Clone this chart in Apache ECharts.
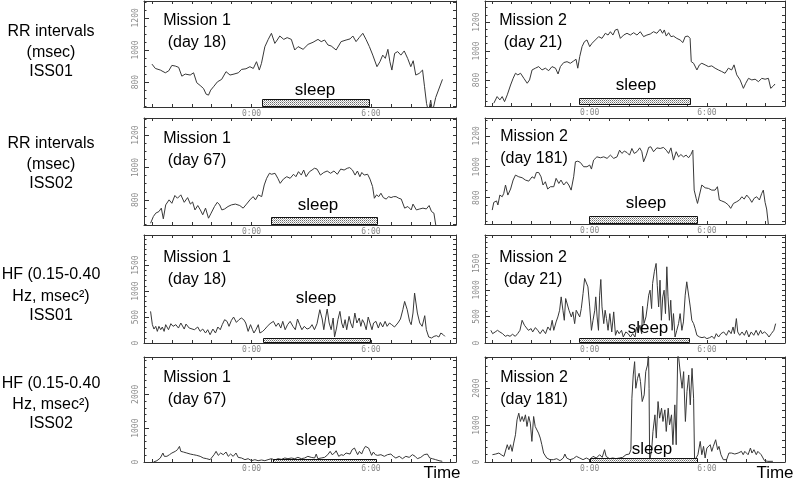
<!DOCTYPE html>
<html><head><meta charset="utf-8">
<script src="https://cdn.jsdelivr.net/npm/echarts@6/dist/echarts.min.js"></script>
<style>html,body{margin:0;padding:0;background:#fff}#c{width:793px;height:481px}</style>
</head><body><div id="c"></div>
<script>
// ---------- data (time in hours relative to 0:00, value) ----------
const xTickLabels = ['0:00', '6:00'];
const xTickLabelHours = [0, 6];

const rrIss01M1 = [[-5.0,912],[-4.83,885],[-4.58,875],[-4.33,858],[-4.16,870],[-4.0,904],[-3.83,900],[-3.66,892],[-3.5,837],[-3.33,850],[-3.08,844],[-2.91,858],[-2.75,796],[-2.58,779],[-2.41,760],[-2.28,725],[-2.16,719],[-2.05,750],[-1.91,771],[-1.71,802],[-1.5,817],[-1.28,865],[-1.08,844],[-0.88,850],[-0.66,858],[-0.5,879],[-0.28,883],[-0.08,896],[0.09,885],[0.25,927],[0.39,875],[0.5,917],[0.67,1020],[0.84,1066],[1.0,1104],[1.17,1041],[1.29,1062],[1.42,1087],[1.62,1066],[1.79,1077],[2.0,1066],[2.17,1000],[2.34,1021],[2.59,1004],[2.84,1035],[3.09,1048],[3.34,1066],[3.5,1052],[3.67,1062],[3.84,1031],[4.0,1025],[4.25,1000],[4.5,1052],[4.75,1062],[4.95,1069],[5.09,1087],[5.25,1052],[5.42,1079],[5.59,1104],[5.75,1066],[5.92,1021],[6.09,968],[6.3,896],[6.45,927],[6.59,968],[6.72,948],[6.85,1004],[6.95,927],[7.05,875],[7.19,979],[7.34,990],[7.5,968],[7.67,994],[7.84,948],[8.0,896],[8.12,933],[8.25,844],[8.42,854],[8.59,875],[8.69,771],[8.79,667],[8.89,615],[9.0,688],[9.09,615],[9.25,704],[9.59,817]];

const rrIss01M2 = [[-4.91,639],[-4.74,685],[-4.6,662],[-4.48,685],[-4.36,650],[-4.22,697],[-4.05,765],[-3.92,811],[-3.8,846],[-3.68,835],[-3.54,846],[-3.37,811],[-3.2,777],[-3.08,800],[-2.95,869],[-2.78,881],[-2.61,892],[-2.44,869],[-2.27,881],[-2.1,864],[-1.93,892],[-1.75,881],[-1.62,841],[-1.5,892],[-1.33,920],[-1.16,926],[-0.99,915],[-0.82,931],[-0.7,943],[-0.61,881],[-0.51,961],[-0.39,1030],[-0.27,1064],[-0.14,1076],[0,1030],[0.12,1053],[0.29,1076],[0.46,1099],[0.63,1087],[0.8,1122],[0.94,1110],[1.06,1133],[1.19,1110],[1.31,1145],[1.43,1150],[1.57,1087],[1.74,1110],[1.91,1122],[2.08,1110],[2.25,1126],[2.42,1110],[2.59,1133],[2.76,1099],[2.93,1110],[3.1,1117],[3.27,1133],[3.44,1122],[3.61,1150],[3.73,1122],[3.82,1145],[3.92,1103],[4.04,1126],[4.16,1099],[4.29,1103],[4.46,1087],[4.63,1076],[4.77,1058],[4.89,1099],[5.03,1103],[5.14,1087],[5.2,926],[5.32,915],[5.49,869],[5.62,904],[5.74,915],[5.91,904],[6.08,892],[6.25,897],[6.42,881],[6.59,869],[6.76,858],[6.93,846],[7.1,881],[7.27,869],[7.39,904],[7.53,835],[7.7,800],[7.87,742],[7.99,777],[8.13,811],[8.3,800],[8.47,805],[8.64,788],[8.81,811],[8.98,805],[9.15,811],[9.27,742],[9.4,758],[9.49,772]];

const rrIss02M1 = [[-5.07,656],[-4.93,697],[-4.81,718],[-4.65,728],[-4.53,749],[-4.43,683],[-4.31,769],[-4.14,800],[-4.0,779],[-3.85,827],[-3.72,810],[-3.55,831],[-3.38,785],[-3.21,814],[-3.07,774],[-2.96,787],[-2.84,738],[-2.7,765],[-2.57,738],[-2.45,708],[-2.31,749],[-2.16,687],[-2.03,718],[-1.86,759],[-1.72,785],[-1.6,769],[-1.49,738],[-1.35,744],[-1.18,759],[-1.01,769],[-0.81,774],[-0.59,765],[-0.42,749],[-0.25,774],[-0.08,800],[0.08,820],[0.2,800],[0.34,831],[0.51,820],[0.64,892],[0.76,933],[0.9,964],[1.01,958],[1.18,964],[1.32,933],[1.44,902],[1.6,928],[1.77,943],[1.94,933],[2.11,958],[2.23,943],[2.36,974],[2.5,953],[2.62,984],[2.74,943],[2.91,974],[3.04,984],[3.16,995],[3.29,990],[3.46,953],[3.63,969],[3.8,978],[3.97,964],[4.14,978],[4.31,958],[4.48,990],[4.65,984],[4.81,995],[4.93,999],[5.07,984],[5.2,953],[5.32,978],[5.44,943],[5.54,969],[5.66,953],[5.83,958],[5.95,928],[6.08,882],[6.17,810],[6.28,831],[6.39,820],[6.5,841],[6.62,814],[6.76,805],[6.89,820],[7.01,814],[7.13,820],[7.26,820],[7.4,810],[7.52,805],[7.69,749],[7.85,759],[8.02,738],[8.11,774],[8.28,738],[8.45,744],[8.61,749],[8.78,744],[8.92,765],[9.04,728],[9.16,718],[9.26,640]];

const rrIss02M2 = [[-4.99,720],[-4.91,770],[-4.77,779],[-4.7,753],[-4.6,817],[-4.48,806],[-4.4,828],[-4.31,882],[-4.19,817],[-4.05,856],[-3.92,914],[-3.8,946],[-3.63,935],[-3.46,929],[-3.29,914],[-3.12,907],[-2.95,935],[-2.83,925],[-2.73,963],[-2.61,963],[-2.49,935],[-2.39,882],[-2.27,903],[-2.15,856],[-2.01,871],[-1.84,871],[-1.72,925],[-1.58,892],[-1.47,914],[-1.33,882],[-1.19,903],[-1.07,882],[-0.95,849],[-0.82,935],[-0.73,1032],[-0.61,1036],[-0.48,1028],[-0.31,1000],[-0.14,1000],[0,1011],[0.09,985],[0.2,1043],[0.37,1064],[0.55,1058],[0.72,1064],[0.89,1054],[1.06,1075],[1.23,1054],[1.4,1064],[1.53,1107],[1.65,1086],[1.77,1101],[1.91,1092],[2.04,1075],[2.16,1118],[2.28,1086],[2.42,1097],[2.56,1122],[2.67,1097],[2.76,1032],[2.9,1075],[3.02,1125],[3.13,1129],[3.27,1097],[3.44,1122],[3.61,1118],[3.78,1125],[3.92,1107],[4.04,1086],[4.16,1122],[4.29,1043],[4.43,1097],[4.55,1064],[4.67,1079],[4.8,1064],[4.94,1075],[5.06,1058],[5.18,1079],[5.28,1107],[5.35,849],[5.45,796],[5.52,763],[5.62,817],[5.74,882],[5.91,864],[6.08,860],[6.25,849],[6.42,849],[6.54,871],[6.64,785],[6.76,779],[6.93,770],[7.1,753],[7.22,731],[7.36,763],[7.53,774],[7.67,785],[7.79,806],[7.91,791],[8.04,817],[8.18,796],[8.3,770],[8.42,796],[8.55,806],[8.69,785],[8.81,828],[8.89,849],[8.98,770],[9.06,727],[9.15,625]];

const hfIss01M1 = [[-5.07,609],[-4.98,353],[-4.9,269],[-4.81,321],[-4.73,224],[-4.65,321],[-4.56,256],[-4.48,308],[-4.39,224],[-4.31,353],[-4.17,256],[-4.05,372],[-3.94,321],[-3.8,353],[-3.67,288],[-3.55,385],[-3.38,269],[-3.29,365],[-3.13,288],[-3.04,321],[-2.87,256],[-2.7,308],[-2.58,224],[-2.45,269],[-2.31,192],[-2.2,256],[-2.08,160],[-1.94,269],[-1.81,192],[-1.69,308],[-1.57,256],[-1.47,353],[-1.35,449],[-1.23,417],[-1.13,321],[-1.01,436],[-0.9,500],[-0.76,397],[-0.63,449],[-0.51,481],[-0.39,449],[-0.29,385],[-0.17,224],[-0.05,353],[0.05,256],[0.12,192],[0.22,256],[0.34,353],[0.42,192],[0.56,224],[0.68,269],[0.79,321],[0.93,372],[1.1,417],[1.23,321],[1.35,385],[1.47,288],[1.57,417],[1.69,256],[1.81,353],[1.94,417],[2.08,321],[2.2,256],[2.31,462],[2.42,353],[2.53,256],[2.65,321],[2.79,269],[2.92,288],[3.04,353],[3.16,256],[3.29,372],[3.43,641],[3.55,462],[3.63,256],[3.72,481],[3.8,654],[3.9,385],[4.0,256],[4.1,481],[4.17,115],[4.27,288],[4.34,449],[4.44,609],[4.53,385],[4.61,288],[4.7,449],[4.78,256],[4.9,513],[4.98,385],[5.08,288],[5.19,577],[5.29,385],[5.41,481],[5.49,321],[5.57,449],[5.66,385],[5.76,256],[5.86,500],[5.96,526],[6.05,256],[6.13,385],[6.25,417],[6.37,288],[6.47,397],[6.59,308],[6.71,417],[6.81,321],[6.93,385],[7.04,353],[7.18,308],[7.35,385],[7.48,462],[7.6,641],[7.69,801],[7.82,641],[7.94,417],[8.02,353],[8.11,577],[8.19,962],[8.33,577],[8.45,385],[8.57,321],[8.7,526],[8.78,256],[8.9,115],[9.04,96],[9.17,128],[9.29,141],[9.41,115],[9.51,192],[9.63,160],[9.71,128]];

const hfIss01M2 = [[-5.06,239],[-4.97,176],[-4.84,208],[-4.72,239],[-4.6,208],[-4.46,176],[-4.32,126],[-4.2,145],[-4.08,126],[-3.95,164],[-3.81,126],[-3.69,176],[-3.57,239],[-3.46,428],[-3.34,334],[-3.26,302],[-3.14,239],[-3.0,271],[-2.92,208],[-2.78,290],[-2.66,239],[-2.54,176],[-2.4,252],[-2.26,176],[-2.14,302],[-2.02,239],[-1.92,428],[-1.84,239],[-1.72,397],[-1.63,491],[-1.54,617],[-1.46,869],[-1.37,617],[-1.3,428],[-1.23,838],[-1.17,869],[-1.06,617],[-0.94,491],[-0.86,586],[-0.77,365],[-0.69,617],[-0.6,649],[-0.51,491],[-0.43,649],[-0.34,932],[-0.26,1216],[-0.17,1247],[-0.09,1058],[0,680],[0.09,239],[0.17,428],[0.26,617],[0.31,869],[0.38,491],[0.45,239],[0.51,901],[0.57,1197],[0.63,680],[0.72,365],[0.79,617],[0.86,460],[0.94,239],[1.03,554],[1.13,208],[1.23,586],[1.32,145],[1.41,239],[1.51,176],[1.63,239],[1.72,113],[1.85,208],[1.97,176],[2.09,113],[2.2,176],[2.32,113],[2.4,302],[2.49,208],[2.57,334],[2.66,176],[2.71,693],[2.78,365],[2.88,491],[2.95,680],[3.02,901],[3.09,995],[3.17,649],[3.22,1121],[3.31,1342],[3.4,1499],[3.46,1089],[3.53,680],[3.6,1184],[3.67,428],[3.74,869],[3.81,995],[3.88,554],[3.95,1436],[4.01,869],[4.08,428],[4.15,806],[4.22,239],[4.29,554],[4.37,113],[4.46,239],[4.55,365],[4.63,554],[4.72,239],[4.8,397],[4.89,901],[4.97,1153],[5.06,1184],[5.15,680],[5.23,428],[5.32,365],[5.4,271],[5.49,145],[5.63,113],[5.75,101],[5.87,113],[6.0,82],[6.14,101],[6.26,126],[6.38,82],[6.48,176],[6.6,113],[6.72,176],[6.86,208],[7.0,145],[7.12,239],[7.24,176],[7.34,302],[7.41,176],[7.51,460],[7.58,208],[7.68,145],[7.8,208],[7.92,145],[8.03,239],[8.15,113],[8.27,208],[8.4,145],[8.52,239],[8.63,145],[8.75,239],[8.83,176],[8.95,208],[9.06,176],[9.18,113],[9.3,176],[9.43,239],[9.52,365]];

const hfIss02M1 = [[-4.92,0],[-4.75,39],[-4.58,118],[-4.45,265],[-4.38,167],[-4.25,167],[-4.12,216],[-4.0,265],[-3.83,314],[-3.72,363],[-3.62,461],[-3.55,314],[-3.42,294],[-3.25,265],[-3.08,235],[-2.92,216],[-2.75,196],[-2.58,167],[-2.42,118],[-2.25,98],[-2.08,69],[-2.0,118],[-1.88,216],[-1.78,314],[-1.67,196],[-1.55,265],[-1.42,216],[-1.28,294],[-1.17,167],[-1.05,235],[-0.92,167],[-0.78,265],[-0.67,137],[-0.5,118],[-0.33,69],[-0.17,98],[0,39],[0.17,69],[0.33,39],[0.5,59],[0.67,39],[0.83,69],[1.0,98],[1.17,59],[1.33,98],[1.5,78],[1.67,118],[1.83,98],[2.0,118],[2.17,98],[2.33,137],[2.5,98],[2.67,118],[2.83,167],[3.0,137],[3.17,118],[3.25,235],[3.33,98],[3.5,118],[3.67,137],[3.83,216],[3.95,314],[4.05,216],[4.17,265],[4.25,333],[4.38,167],[4.5,216],[4.62,196],[4.75,265],[4.83,314],[4.95,235],[5.05,363],[5.17,412],[5.25,314],[5.33,216],[5.42,314],[5.53,235],[5.62,363],[5.72,461],[5.8,510],[5.88,412],[5.95,314],[6.03,196],[6.12,294],[6.22,216],[6.33,196],[6.5,216],[6.67,167],[6.83,216],[7.0,235],[7.12,167],[7.25,118],[7.42,167],[7.58,98],[7.75,167],[7.92,137],[8.08,216],[8.22,167],[8.33,98],[8.5,137],[8.67,216],[8.83,235],[8.95,118],[9.08,98],[9.25,69],[9.42,39],[9.58,20]];

const hfIss02M2 = [[-4.98,198],[-4.81,216],[-4.65,243],[-4.53,198],[-4.39,153],[-4.31,198],[-4.22,468],[-4.14,333],[-4.05,468],[-3.97,288],[-3.89,513],[-3.8,738],[-3.72,1143],[-3.63,1323],[-3.55,1098],[-3.46,1233],[-3.38,1098],[-3.29,1278],[-3.21,963],[-3.12,1233],[-3.04,1053],[-2.96,558],[-2.87,1233],[-2.79,963],[-2.7,918],[-2.62,783],[-2.53,648],[-2.45,468],[-2.36,243],[-2.28,288],[-2.2,108],[-2.03,63],[-1.86,63],[-1.69,90],[-1.52,36],[-1.35,108],[-1.27,216],[-1.18,108],[-1.01,63],[-0.84,90],[-0.68,153],[-0.51,108],[-0.34,63],[-0.17,108],[0,63],[0.17,153],[0.34,108],[0.51,198],[0.64,126],[0.76,333],[0.84,153],[1.01,90],[1.18,108],[1.35,90],[1.52,108],[1.69,126],[1.86,198],[2.03,216],[2.11,333],[2.16,1728],[2.23,2358],[2.3,2718],[2.36,1998],[2.45,2268],[2.53,2403],[2.6,2178],[2.69,1638],[2.79,1818],[2.87,2448],[2.96,2628],[3.01,3000],[3.04,1998],[3.07,18],[3.18,378],[3.24,828],[3.34,1278],[3.41,648],[3.5,1638],[3.58,1188],[3.68,1458],[3.75,1098],[3.85,1413],[3.92,828],[4.02,1458],[4.09,1008],[4.19,1278],[4.26,468],[4.36,1548],[4.43,468],[4.51,3000],[4.56,2808],[4.65,2358],[4.73,1998],[4.81,2448],[4.9,1098],[4.98,1908],[5.07,2358],[5.15,1548],[5.24,2538],[5.32,1728],[5.37,36],[5.44,18],[5.54,198],[5.66,558],[5.74,198],[5.83,423],[5.91,108],[6.0,378],[6.08,333],[6.17,468],[6.25,288],[6.33,423],[6.45,603],[6.55,333],[6.62,423],[6.72,198],[6.84,63],[6.93,18],[7.01,63],[7.13,243],[7.26,243],[7.43,216],[7.6,243],[7.77,288],[7.86,198],[7.94,288],[8.11,198],[8.23,378],[8.31,243],[8.41,333],[8.53,198],[8.61,288],[8.7,306],[8.78,198],[8.87,153],[8.95,36],[9.12,18],[9.38,18]];

// sleep periods [start, end] in hours
const sleepIss01M1 = [0.55, 5.94];
const sleepIss01M2 = [-0.55, 5.13];
const sleepIss02M1 = [0.97, 6.3];
const sleepIss02M2 = [-0.04, 5.49];
const sleepHfIss01M1 = [0.57, 5.94];
const sleepHfIss01M2 = [-0.55, 5.08];
const sleepHfIss02M1 = [1.07, 6.25];
const sleepHfIss02M2 = [0.02, 5.49];

const titles = [['Mission 1','(day 18)'],['Mission 2','(day 21)'],['Mission 1','(day 67)'],['Mission 2','(day 181)'],
                ['Mission 1','(day 18)'],['Mission 2','(day 21)'],['Mission 1','(day 67)'],['Mission 2','(day 181)']];
const rowLabels = [['RR intervals','(msec)','ISS01'],['RR intervals','(msec)','ISS02'],
                   ['HF (0.15-0.40','Hz, msec²)','ISS01'],['HF (0.15-0.40','Hz, msec²)','ISS02']];
const rrTickLabels = [800, 1000, 1200];
const hf1TickLabels = [0, 500, 1000, 1500];
const hf2TickLabels = [0, 1000, 2000];

// ---------- panel config ----------
const series = [rrIss01M1, rrIss01M2, rrIss02M1, rrIss02M2, hfIss01M1, hfIss01M2, hfIss02M1, hfIss02M2];
const sleeps = [sleepIss01M1, sleepIss01M2, sleepIss02M1, sleepIss02M2, sleepHfIss01M1, sleepHfIss01M2, sleepHfIss02M1, sleepHfIss02M2];
const yRanges = [[645,1305],[620,1345],[645,1305],[630,1315],[0,2080],[0,2035],[0,3100],[0,2845]];
const yLabels = [rrTickLabels, rrTickLabels, rrTickLabels, rrTickLabels, hf1TickLabels, hf1TickLabels, hf2TickLabels, hf2TickLabels];
const yMinorStep = [50,50,50,50,100,100,200,200];

const layout = [
  {left:144,top:1,w:312,h:106, x:[-5.4,10.27], tx:197, ty:21, sl:[315,90], bh:7, bo:1},
  {left:485,top:1,w:300,h:105, x:[-5.36,10.0], tx:533, ty:21, sl:[636,85], bh:6, bo:2.5},
  {left:144,top:118,w:312,h:107, x:[-5.4,10.27], tx:197, ty:139, sl:[318,205], bh:7, bo:1},
  {left:485,top:118,w:300,h:106, x:[-5.36,10.0], tx:534, ty:137, sl:[646,203], bh:7, bo:1},
  {left:144,top:235,w:312,h:108, x:[-5.4,10.27], tx:197, ty:258, sl:[316,298], bh:4, bo:1.3},
  {left:485,top:235,w:300,h:108, x:[-5.36,10.0], tx:533, ty:258, sl:[648,328], bh:4, bo:1.3},
  {left:144,top:357,w:312,h:105, x:[-5.4,10.27], tx:197, ty:378, sl:[316,440], bh:3, bo:0.5},
  {left:485,top:357,w:300,h:105, x:[-5.36,10.0], tx:534, ty:378, sl:[652,449], bh:4, bo:0.5}
];
const rowLabelY = [[32,52.5,72],[144,165,184],[275,296.5,315.5],[383.5,404.5,423.5]];

function steps(a, b, s) { const r = []; for (let v = Math.ceil(a / s) * s; v <= b; v += s) { if (v > a && v < b) r.push(v); } return r; }

// hatch pattern
const pc = document.createElement('canvas'); pc.width = 4; pc.height = 4;
const g = pc.getContext('2d');
g.fillStyle = '#ffffff'; g.fillRect(0,0,4,4);
g.fillStyle = '#6a6a6a';
[[0,0],[2,2],[2,0],[0,2]].forEach(p => g.fillRect(p[0],p[1],1,1));
g.fillStyle = '#b0b0b0';
[[1,1],[3,3],[3,1],[1,3]].forEach(p => g.fillRect(p[0],p[1],1,1));
const hatch = {image: pc, repeat: 'repeat'};

const axisCol = '#333';
const lblStyle = {color:'#8a8a8a', fontSize:8, fontFamily:'DejaVu Sans Mono'};
const grids = [], xAxes = [], yAxes = [], ser = [], graphics = [];

layout.forEach((L, i) => {
  grids.push({left:L.left, top:L.top, width:L.w, height:L.h, containLabel:false});
  const hours = steps(L.x[0], L.x[1], 1);
  const [ymin, ymax] = yRanges[i];
  const minor = steps(ymin, ymax, yMinorStep[i]);
  // bottom x
  xAxes.push({type:'value', gridIndex:i, min:L.x[0], max:L.x[1], position:'bottom',
    axisLine:{show:true, onZero:false, lineStyle:{color:axisCol, width:1}},
    axisTick:{show:true, inside:true, length:3, customValues:hours, lineStyle:{color:axisCol}},
    axisLabel:Object.assign({show:true, margin:3, customValues:xTickLabelHours,
      formatter: v => xTickLabels[xTickLabelHours.indexOf(v)] || ''}, lblStyle),
    splitLine:{show:false}});
  // top x (mirror)
  xAxes.push({type:'value', gridIndex:i, min:L.x[0], max:L.x[1], position:'top',
    axisLine:{show:true, onZero:false, lineStyle:{color:axisCol, width:1}},
    axisTick:{show:true, inside:true, length:3, customValues:hours, lineStyle:{color:axisCol}},
    axisLabel:{show:false}, splitLine:{show:false}});
  // left major y
  yAxes.push({type:'value', gridIndex:i, min:ymin, max:ymax, position:'left',
    axisLine:{show:true, onZero:false, lineStyle:{color:axisCol, width:1}},
    axisTick:{show:true, inside:true, length:5, customValues:yLabels[i], lineStyle:{color:axisCol}},
    axisLabel:Object.assign({show:true, rotate:90, margin:4, customValues:yLabels[i], formatter: v => String(v)}, lblStyle),
    splitLine:{show:false}});
  // left minor y
  yAxes.push({type:'value', gridIndex:i, min:ymin, max:ymax, position:'left',
    axisLine:{show:false, onZero:false},
    axisTick:{show:true, inside:true, length:2.5, customValues:minor, lineStyle:{color:axisCol}},
    axisLabel:{show:false}, splitLine:{show:false}});
  // right mirror y
  yAxes.push({type:'value', gridIndex:i, min:ymin, max:ymax, position:'right',
    axisLine:{show:true, onZero:false, lineStyle:{color:axisCol, width:1}},
    axisTick:{show:true, inside:true, length:3, customValues:minor, lineStyle:{color:axisCol}},
    axisLabel:{show:false}, splitLine:{show:false}});

  ser.push({type:'line', xAxisIndex:2*i, yAxisIndex:3*i, data:series[i], showSymbol:false, symbol:'none',
    lineStyle:{color:'#383838', width:1}, clip:true, silent:true, animation:false, z:2});

  const bh = L.bh, bo = L.bo;
  ser.push({type:'custom', xAxisIndex:2*i, yAxisIndex:3*i, data:[sleeps[i]], encode:{x:[0,1]},
    silent:true, animation:false, z:3,
    renderItem:(params, api) => {
      const s = api.coord([api.value(0), ymin]);
      const e = api.coord([api.value(1), ymin]);
      return {type:'rect', shape:{x:Math.round(s[0])+0.5, y:Math.round(s[1]-bo-bh)+0.5, width:Math.round(e[0]-s[0]), height:bh},
        style:{fill:hatch, stroke:'#111', lineWidth:1}};
    }});

  const font16 = '16px "Liberation Sans", Arial, sans-serif';
  graphics.push({type:'text', x:L.tx, y:L.ty, z:100, style:{text:titles[i][0], font:font16, fill:'#000', textAlign:'center', textVerticalAlign:'middle'}});
  graphics.push({type:'text', x:L.tx, y:L.ty+22, z:100, style:{text:titles[i][1], font:font16, fill:'#000', textAlign:'center', textVerticalAlign:'middle'}});
  graphics.push({type:'text', x:L.sl[0], y:L.sl[1], z:100, style:{text:'sleep', font:'17px "Liberation Sans", Arial, sans-serif', fill:'#000', textAlign:'center', textVerticalAlign:'middle'}});
});

rowLabels.forEach((lines, r) => {
  lines.forEach((t, k) => {
    graphics.push({type:'text', x:51, y:rowLabelY[r][k], z:100,
      style:{text:t, font:'16px "Liberation Sans", Arial, sans-serif', fill:'#000', textAlign:'center', textVerticalAlign:'middle'}});
  });
});
graphics.push({type:'text', x:442, y:473, z:100, style:{text:'Time', font:'17px "Liberation Sans", Arial, sans-serif', fill:'#000', textAlign:'center', textVerticalAlign:'middle'}});
graphics.push({type:'text', x:775, y:473, z:100, style:{text:'Time', font:'17px "Liberation Sans", Arial, sans-serif', fill:'#000', textAlign:'center', textVerticalAlign:'middle'}});

const chart = echarts.init(document.getElementById('c'), null, {renderer:'canvas'});
chart.setOption({
  animation:false,
  backgroundColor:'#ffffff',
  grid:grids, xAxis:xAxes, yAxis:yAxes, series:ser, graphic:graphics
});
</script>
</body></html>
